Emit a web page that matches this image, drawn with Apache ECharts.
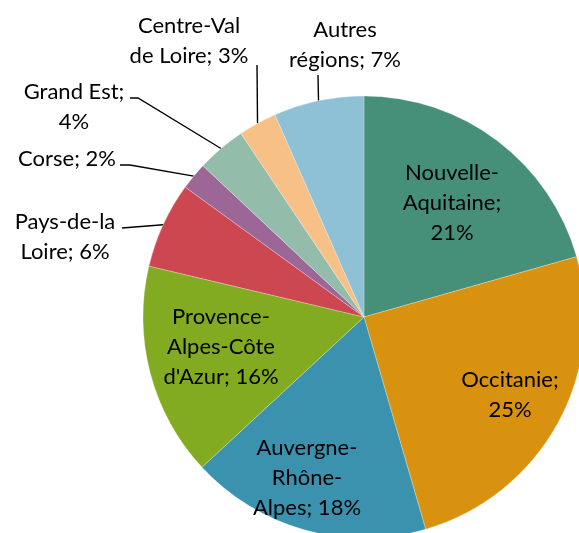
<!DOCTYPE html>
<html>
<head>
<meta charset="utf-8">
<script src="https://cdn.jsdelivr.net/npm/echarts@6/dist/echarts.min.js"></script>
<style>
  html, body { margin: 0; padding: 0; background: #fff; }
  #chart { width: 579px; height: 533px; }
</style>
</head>
<body>
<div id="chart"></div>
<script>
// régions, part en %
const categories = ['Nouvelle-Aquitaine', 'Occitanie', 'Auvergne-Rhône-Alpes', "Provence-Alpes-Côte d'Azur",
  'Pays-de-la Loire', 'Corse', 'Grand Est', 'Centre-Val de Loire', 'Autres régions'];
const shares = [20.6, 24.9, 17.6, 15.6, 6.3, 2.0, 3.6, 2.8, 6.6];
// texte des étiquettes, coupé comme dans l'original
const labelText = ['Nouvelle-\nAquitaine;\n', 'Occitanie;\n', 'Auvergne-\nRhône-\nAlpes; ', "Provence-\nAlpes-Côte\nd'Azur; ",
  'Pays-de-la\nLoire; ', 'Corse; ', 'Grand Est;\n', 'Centre-Val\nde Loire; ', 'Autres\nrégions; '];
const colors = ['#46907a', '#d9920f', '#3a92ae', '#83ab22', '#cc4750', '#9c6797', '#93bcaa', '#f7c087', '#8ec0d6'];
const inside = [true, true, true, true, false, false, false, false, false];

// placement des étiquettes (centre du bloc de texte, puis coudes du trait de rappel)
const CX = 364, CY = 317, R = 221;
const labelSpots = [
  { pos: [452, 203] },
  { pos: [510, 395] },
  { pos: [307, 478] },
  { pos: [221, 347] },
  { pos: [65, 237], guide: [[122, 228]] },
  { pos: [67, 159], guide: [[130, 165], [120, 165]] },
  { pos: [74, 107], guide: [[138, 98], [130, 98]] },
  { pos: [189, 41], guide: [[257, 65]] },
  { pos: [345, 45], guide: [[318, 75]] }
];

const chart = echarts.init(document.getElementById('chart'));

const option = {
  animation: false,
  textStyle: { fontFamily: 'Lato' },
  series: [{
    type: 'pie',
    center: [CX, CY],
    radius: R,
    startAngle: 90,
    clockwise: true,
    avoidLabelOverlap: false,
    itemStyle: { borderColor: 'rgba(255,255,255,0.5)', borderWidth: 0.5 },
    label: {
      show: true,
      position: 'outside',
      color: '#000',
      fontSize: 22,
      lineHeight: 30,
      fontFamily: 'Lato',
      formatter: p => labelText[p.dataIndex] + Math.round(p.percent) + '%'
    },
    labelLine: {
      show: true,
      length: 10,
      length2: 10,
      lineStyle: { color: '#000', width: 1.4 }
    },
    emphasis: { disabled: true },
    data: categories.map((name, i) => ({
      name: name,
      value: shares[i],
      itemStyle: { color: colors[i] },
      label: inside[i] ? { position: 'inside' } : undefined,
      labelLine: inside[i] ? { show: false } : undefined
    })),
    labelLayout: function (params) {
      const spot = labelSpots[params.dataIndex];
      const out = {
        x: spot.pos[0],
        y: spot.pos[1],
        align: 'center',
        verticalAlign: 'middle'
      };
      if (spot.guide && params.labelLinePoints) {
        out.labelLinePoints = [params.labelLinePoints[0]].concat(spot.guide);
      }
      return out;
    }
  }]
};

chart.setOption(option);
</script>
</body>
</html>
